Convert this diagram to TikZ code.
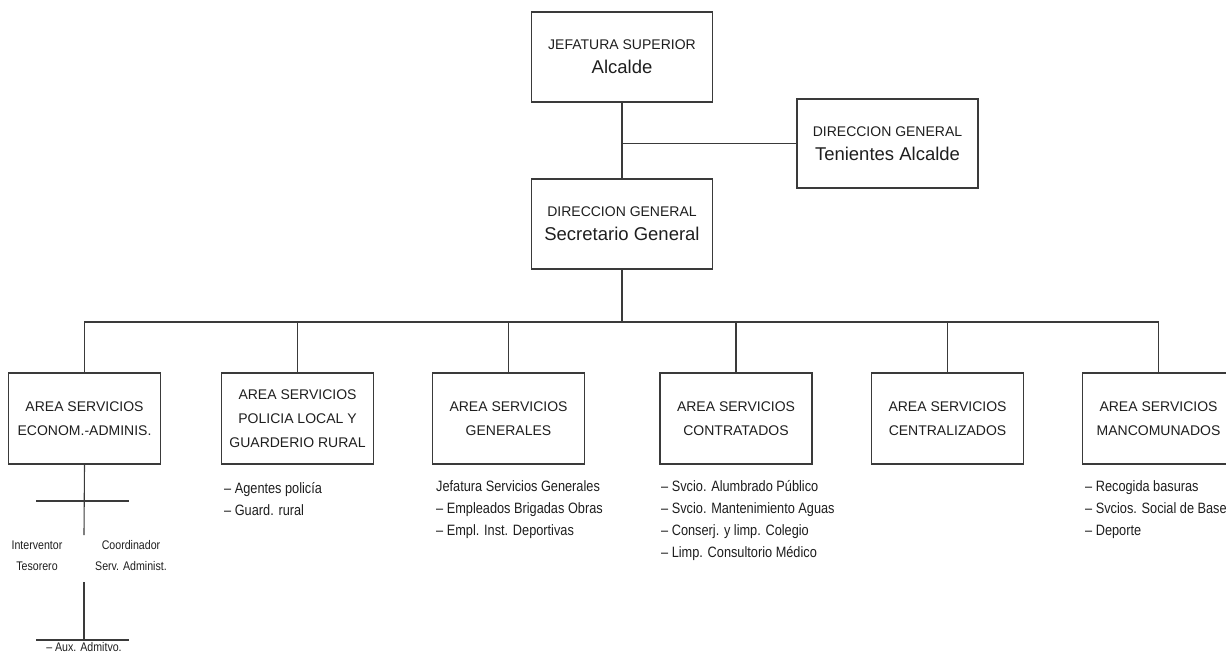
\documentclass[tikz,border=0pt]{standalone}
\usepackage{fontspec}
\setmainfont{Liberation Sans}
\newfontfamily\narrowfont[FakeStretch=0.85,Ligatures=TeX]{Liberation Sans}
\definecolor{linec}{HTML}{3A3A3A}
\definecolor{textc}{HTML}{1E1E1E}
\tikzset{
  box/.style={draw=linec, line width=1.1pt, minimum width=181pt, minimum height=90pt, inner sep=0pt, align=center, text=textc, font=\fontsize{14}{24}\selectfont},
  abox/.style={draw=linec, line width=1.1pt, minimum width=152pt, minimum height=91pt, inner sep=0pt, align=center, text=textc, font=\fontsize{14}{24}\selectfont},
  conn/.style={draw=linec, line width=1.1pt},
  items/.style={inner sep=0pt, align=left, anchor=west, text=textc, font=\narrowfont\fontsize{15}{22}\selectfont},
  small/.style={inner sep=0pt, align=center, text=textc, font=\narrowfont\fontsize{12.5}{21}\selectfont}
}
\begin{document}
\begin{tikzpicture}[x=1pt,y=-1pt]
\useasboundingbox (0,0) rectangle (1226,654);
\clip (0,0) rectangle (1226,654);
% top boxes
\node[box] (alc) at (622,57) {JEFATURA SUPERIOR\\{\fontsize{18.5}{24}\selectfont Alcalde}};
\node[box, minimum height=89pt] (ten) at (887.5,143.5) {DIRECCION GENERAL\\{\fontsize{18.5}{24}\selectfont Tenientes Alcalde}};
\node[box] (sec) at (622,224) {DIRECCION GENERAL\\{\fontsize{18.5}{24}\selectfont Secretario General}};
% area boxes
\node[abox] (a1) at (84.5,418.5) {AREA SERVICIOS\\ECONOM.-ADMINIS.};
\node[abox] (a2) at (297.5,418.5) {AREA SERVICIOS\\POLICIA LOCAL Y\\GUARDERIO RURAL};
\node[abox] (a3) at (508.5,418.5) {AREA SERVICIOS\\GENERALES};
\node[abox] (a4) at (736,418.5) {AREA SERVICIOS\\CONTRATADOS};
\node[abox] (a5) at (947.5,418.5) {AREA SERVICIOS\\CENTRALIZADOS};
\node[abox] (a6) at (1158.5,418.5) {AREA SERVICIOS\\MANCOMUNADOS};
% connectors top
\draw[conn] (alc.south) -- (sec.north);
\draw[conn] (alc.south |- ten.west) -- (ten.west);
\coordinate (bus) at (622,322);
\draw[conn] (sec.south) -- (bus);
\draw[conn] (a1.north) |- (bus) -| (a6.north);
\foreach \n in {a2,a3,a4,a5} \draw[conn] (\n.north) -- (\n.north |- bus);
% item lists
\node[items] (l2) at (224,499) {– Agentes policía\\– Guard. rural};
\node[items] (l3) at (436,510) {Jefatura Servicios Generales\\– Empleados Brigadas Obras\\– Empl. Inst. Deportivas};
\node[items] (l4) at (661,521) {– Svcio. Alumbrado Público\\– Svcio. Mantenimiento Aguas\\– Conserj. y limp. Colegio\\– Limp. Consultorio Médico};
\node[items] (l6) at (1085,510) {– Recogida basuras\\– Svcios. Social de Base\\– Deporte};
% econ-admin subtree
\coordinate (t1) at (84,535);
\coordinate (h1l) at (36,501);
\coordinate (h1r) at (129,501);
\draw[conn] (a1.south) -- (t1);
\draw[conn] (h1l) -- (h1r);
\node[small] (int) at (37,555.5) {Interventor\\Tesorero};
\node[small] (coo) at (131,555.5) {Coordinador\\Serv. Administ.};
\coordinate (t2a) at (84,582);
\coordinate (t2b) at (84,640);
\coordinate (h2l) at (36,640);
\coordinate (h2r) at (129,640);
\draw[conn] (t2a) -- (t2b);
\draw[conn] (h2l) -- (h2r);
\node[small, anchor=north] (aux) at (84,642) {– Aux. Admitvo.};
\end{tikzpicture}
\end{document}
